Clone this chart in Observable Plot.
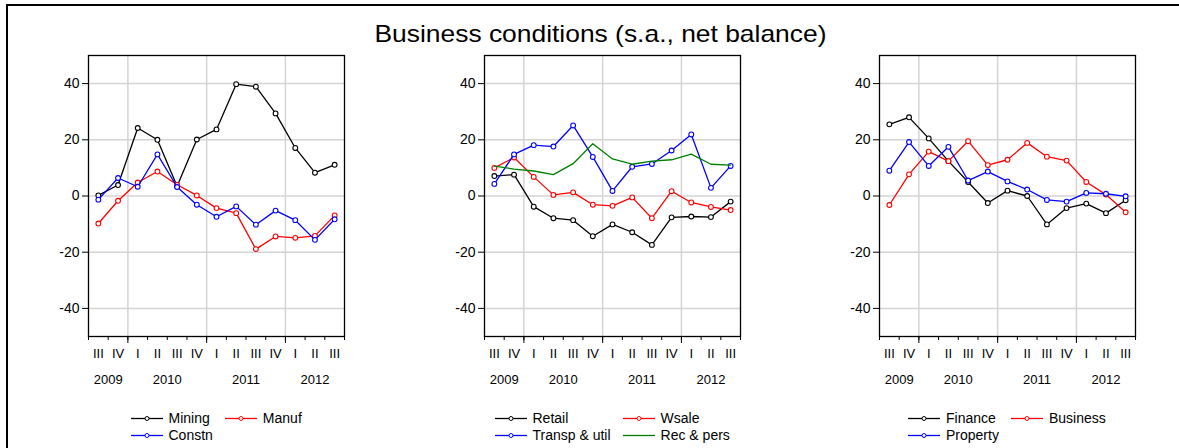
<!DOCTYPE html>
<html><head><meta charset="utf-8">
<script src="https://cdn.jsdelivr.net/npm/d3@7"></script>
<script src="https://cdn.jsdelivr.net/npm/@observablehq/plot@0.6"></script>
<style>
html,body{margin:0;padding:0;background:#fff;overflow:hidden;}
#wrap{position:relative;width:1179px;height:448px;overflow:hidden;font-family:"Liberation Sans",Arial,sans-serif;color:#000;}
#border{position:absolute;left:6px;top:4px;width:1250px;height:520px;border:2px solid #000;box-sizing:border-box;}
#title{position:absolute;left:0;width:1201px;top:22px;text-align:center;font-size:24px;line-height:24px;white-space:nowrap;}
#title span{display:inline-block;transform:scaleX(1.1);}
.panel{position:absolute;top:45px;}
.legend{position:absolute;top:410px;display:grid;grid-template-columns:auto auto;column-gap:12px;font-size:14px;line-height:17px;white-space:nowrap;}
.item{display:flex;align-items:flex-start;}
.item svg{flex:none;margin-right:6px;}
</style></head>
<body>
<div id="wrap">
  <div id="border"></div>
  <div id="title"><span>Business conditions (s.a., net balance)</span></div>
</div>
<script>
// ---- data ----
const quarters = ["III","IV","I","II","III","IV","I","II","III","IV","I","II","III"];
const quarterYears = [2009,2009,2010,2010,2010,2010,2011,2011,2011,2011,2012,2012,2012];
const yTicks = [-40,-20,0,20,40];

// Panel 1
const mining = [0.2, 3.9, 24.2, 20.0, 3.5, 20.1, 23.7, 39.8, 38.9, 29.4, 17.1, 8.3, 11.1];
const manuf  = [-9.8, -1.7, 4.8, 8.7, 4.0, 0.2, -4.3, -6.1, -18.9, -14.4, -14.9, -14.2, -6.9];
const constn = [-1.3, 6.4, 3.3, 14.8, 3.2, -3.1, -7.4, -3.7, -10.2, -5.2, -8.6, -15.6, -8.3];
// Panel 2
const retail = [7.1, 7.6, -3.8, -7.9, -8.6, -14.3, -10.1, -12.9, -17.4, -7.6, -7.3, -7.5, -2.0];
const wsale  = [10.0, 13.7, 6.8, 0.4, 1.3, -3.1, -3.5, -0.5, -7.9, 1.7, -2.3, -3.9, -5.0];
const transp = [4.3, 14.8, 18.1, 17.6, 25.1, 13.9, 1.8, 10.4, 11.4, 16.2, 21.9, 2.9, 10.7];
const recpers = [10.6, 9.6, 8.9, 7.6, 11.5, 18.6, 13.2, 11.3, 12.4, 12.9, 14.9, 11.3, 11.0];
// Panel 3
const finance  = [25.5, 28.0, 20.5, 12.4, 5.0, -2.5, 1.9, 0.0, -10.1, -4.3, -2.7, -6.1, -1.5];
const business = [-3.2, 7.7, 15.8, 12.4, 19.5, 11.0, 12.9, 18.9, 14.0, 12.6, 5.0, 0.5, -5.8];
const property = [9.0, 19.2, 10.7, 17.5, 5.5, 8.7, 5.2, 2.3, -1.4, -2.0, 1.1, 0.8, -0.1];

const panels = [
  {left: 0, series: [
    {name: "Mining", values: mining, color: "#000000", marker: true},
    {name: "Manuf", values: manuf, color: "#ff0000", marker: true},
    {name: "Constn", values: constn, color: "#0000ff", marker: true}]},
  {left: 396, series: [
    {name: "Retail", values: retail, color: "#000000", marker: true},
    {name: "Wsale", values: wsale, color: "#ff0000", marker: true},
    {name: "Transp & util", values: transp, color: "#0000ff", marker: true},
    {name: "Rec & pers", values: recpers, color: "#008000", marker: false}]},
  {left: 791, series: [
    {name: "Finance", values: finance, color: "#000000", marker: true},
    {name: "Business", values: business, color: "#ff0000", marker: true},
    {name: "Property", values: property, color: "#0000ff", marker: true}]}
];

// ---- derived ticks ----
const idx = quarters.map((_, i) => i);
const boundaries = d3.range(-0.5, quarters.length, 1);
const yearBoundaries = idx.slice(1).filter(i => quarterYears[i] !== quarterYears[i - 1]).map(i => i - 0.5);
const years = Array.from(new Set(quarterYears));
const yearCenters = years.map(y => d3.mean(idx.filter(i => quarterYears[i] === y)));
const yearAt = new Map(yearCenters.map((c, k) => [c, String(years[k])]));

const W = 390, H = 350, ML = 88, MR = 46, MT = 10, MB = 59;
const wrap = document.getElementById("wrap");

for (const p of panels) {
  const marks = [
    Plot.gridY(yTicks, {stroke: "#d4d4d4", strokeOpacity: 1, strokeWidth: 1.5}),
    Plot.gridX(yearBoundaries, {stroke: "#d4d4d4", strokeOpacity: 1, strokeWidth: 1.5})
  ];
  for (const s of p.series) {
    const rows = s.values.map((v, i) => ({q: i, v}));
    marks.push(Plot.line(rows, {x: "q", y: "v", stroke: s.color, strokeWidth: 1.3}));
    if (s.marker) marks.push(Plot.dot(rows, {x: "q", y: "v", r: 2.4, stroke: s.color, fill: "white", strokeWidth: 1.1}));
  }
  marks.push(
    Plot.frame({stroke: "#000", strokeWidth: 1.3}),
    Plot.axisY(yTicks, {tickSize: 6, tickPadding: 3, fontSize: 14, tickFormat: d => String(d), label: null}),
    Plot.axisX(boundaries, {tickSize: 4, tickFormat: () => "", label: null}),
    Plot.axisX(yearBoundaries, {tickSize: 7, tickFormat: () => "", label: null}),
    Plot.axisX(idx, {tickSize: 0, tickPadding: 12, tickFormat: i => quarters[i], fontSize: 13, label: null}),
    Plot.axisX(yearCenters, {tickSize: 0, tickPadding: 38, tickFormat: c => yearAt.get(c), fontSize: 13, label: null})
  );
  const chart = Plot.plot({
    width: W, height: H,
    marginLeft: ML, marginRight: MR, marginTop: MT, marginBottom: MB,
    x: {type: "linear", domain: [-0.5, quarters.length - 0.5], label: null},
    y: {domain: [-50, 50], label: null},
    style: {fontFamily: "Liberation Sans, Arial, sans-serif", fontSize: "14px", background: "transparent", overflow: "visible", color: "#000"},
    marks
  });
  chart.classList.add("panel");
  chart.style.left = p.left + "px";
  wrap.appendChild(chart);

  // legend
  const lg = document.createElement("div");
  lg.className = "legend";
  for (const s of p.series) {
    const it = document.createElement("div");
    it.className = "item";
    const ns = "http://www.w3.org/2000/svg";
    const sv = document.createElementNS(ns, "svg");
    sv.setAttribute("width", 32); sv.setAttribute("height", 17);
    const ln = document.createElementNS(ns, "line");
    ln.setAttribute("x1", 0); ln.setAttribute("x2", 32); ln.setAttribute("y1", 8.5); ln.setAttribute("y2", 8.5);
    ln.setAttribute("stroke", s.color); ln.setAttribute("stroke-width", 1.3);
    sv.appendChild(ln);
    if (s.marker) {
      const c = document.createElementNS(ns, "circle");
      c.setAttribute("cx", 16); c.setAttribute("cy", 8.5); c.setAttribute("r", 2);
      c.setAttribute("fill", "white"); c.setAttribute("stroke", s.color); c.setAttribute("stroke-width", 1);
      sv.appendChild(c);
    }
    it.appendChild(sv);
    const t = document.createElement("span");
    t.textContent = s.name;
    it.appendChild(t);
    lg.appendChild(it);
  }
  wrap.appendChild(lg);
  const center = p.left + ML + (W - ML - MR) / 2;
  lg.style.left = (center - lg.offsetWidth / 2) + "px";
}
</script>
</body></html>
